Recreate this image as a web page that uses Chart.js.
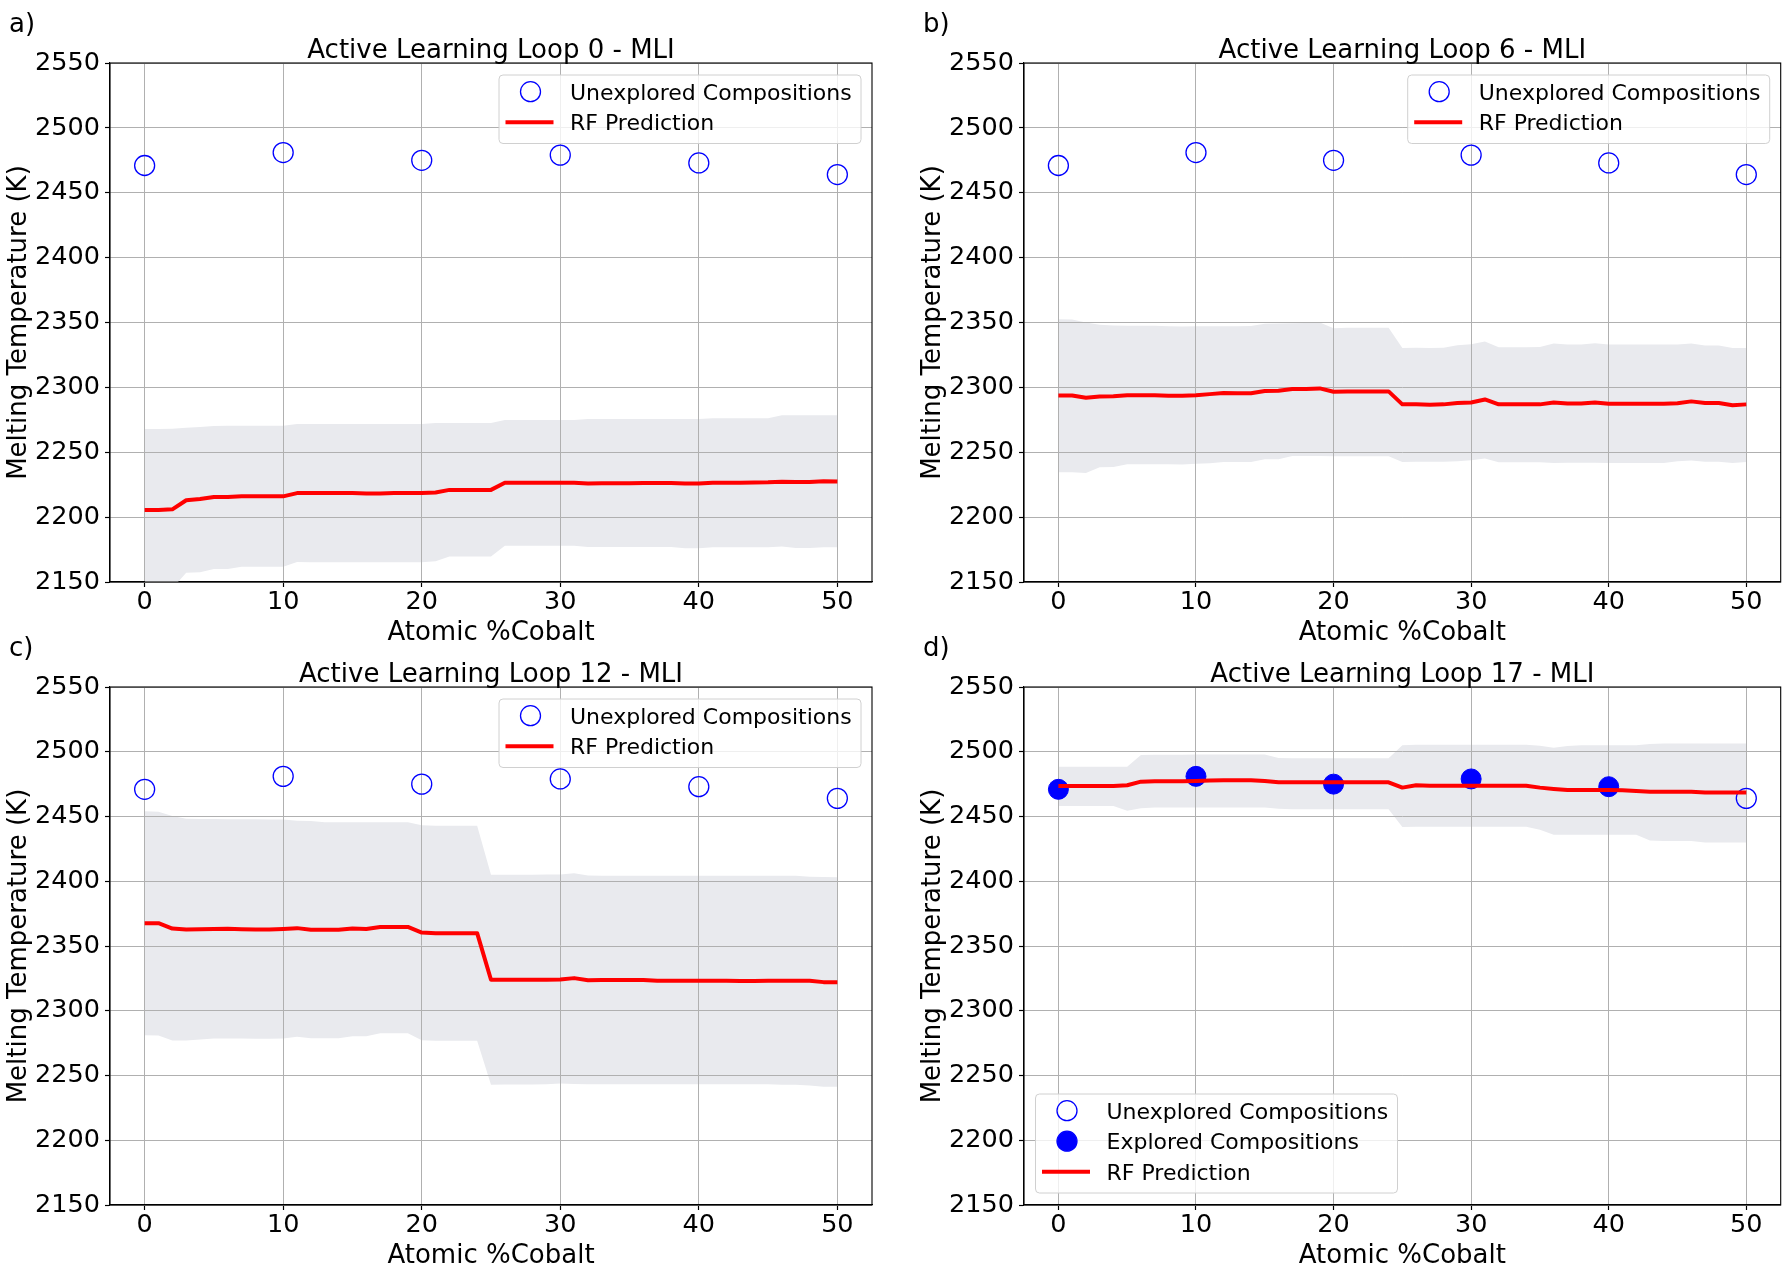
<!DOCTYPE html>
<html>
<head>
<meta charset="utf-8">
<title>Active Learning Loops - MLI</title>
<script src="https://cdn.jsdelivr.net/npm/chart.js@4.4.1/dist/chart.umd.min.js"></script>
<style>
  body { margin: 0; background: #fff; }
  #wrap { position: relative; width: 1792px; height: 1275px; }
  canvas { position: absolute; left: 0; top: 0; }
</style>
</head>
<body>
<div id="wrap">
  <canvas id="pa" width="1792" height="1275"></canvas>
  <canvas id="pb" width="1792" height="1275"></canvas>
  <canvas id="pc" width="1792" height="1275"></canvas>
  <canvas id="pd" width="1792" height="1275"></canvas>
</div>
<script>
// composition grid (atomic % cobalt)
const cobalt = [0,1,2,3,4,5,6,7,8,9,10,11,12,13,14,15,16,17,18,19,20,21,22,23,24,25,
  26,27,28,29,30,31,32,33,34,35,36,37,38,39,40,41,42,43,44,45,46,47,48,49,50]

// measured compositions
const sampleX = [0, 10, 20, 30, 40, 50]
const sampleY = [2471, 2481, 2475, 2479, 2473, 2464]

const xTicks = [0, 10, 20, 30, 40, 50]
const yTicks = [2150, 2200, 2250, 2300, 2350, 2400, 2450, 2500, 2550]

// loop 0
const predLoop0 = [2205.5,2205.5,2206,2213,2214,2215.5,2215.5,2216,2216,2216,
  2216,2218.5,2218.5,2218.5,2218.5,2218.5,2218.3,2218.3,2218.5,2218.5,
  2218.5,2219,2221,2221,2221,2221,2226.5,2226.5,2226.5,2226.5,
  2226.5,2226.5,2226,2226.2,2226.2,2226.2,2226.3,2226.3,2226.3,2226,
  2226,2226.5,2226.5,2226.5,2226.6,2226.8,2227.3,2227,2227,2227.6,
  2227.4]
const upperLoop0 = [2268,2268,2268.2,2268.8,2269.5,2270.3,2270.5,2270.5,2270.5,2270.5,
  2270.5,2271.8,2271.8,2271.8,2271.8,2271.8,2271.8,2271.8,2271.8,2271.8,
  2271.8,2272.6,2272.6,2272.6,2272.6,2272.6,2274.9,2274.9,2274.9,2274.9,
  2274.9,2274.9,2275.6,2275.6,2275.6,2275.6,2275.6,2275.6,2275.6,2275.6,
  2275.6,2276.3,2276.3,2276.3,2276.3,2276.3,2278.5,2278.5,2278.5,2278.5,
  2278.5]
const lowerLoop0 = [2143,2143,2145,2157.2,2157.5,2160,2160,2161.8,2161.8,2161.8,
  2161.8,2165.4,2165.2,2165.2,2165.2,2165.2,2165.2,2165.2,2165.2,2165.2,
  2165.2,2165.9,2169.7,2169.7,2169.7,2169.7,2178,2178,2178,2178,
  2178,2178,2177,2177,2177,2177,2177,2177,2177,2176,
  2176,2176.7,2176.7,2176.7,2176.7,2176.7,2177.4,2176.3,2176.3,2176.8,
  2176.8]

// loop 6
const predLoop6 = [2293.8,2293.8,2292,2293,2293.2,2294,2294,2294,2293.6,2293.6,
  2294,2294.8,2295.6,2295.4,2295.4,2297.2,2297.4,2298.7,2298.7,2299.2,
  2296.6,2296.8,2296.9,2296.9,2296.9,2286.9,2286.9,2286.6,2286.9,2287.9,
  2288.4,2290.7,2286.9,2286.9,2286.9,2286.9,2288.4,2287.6,2287.6,2288.4,
  2287.4,2287.4,2287.4,2287.4,2287.4,2287.8,2289.2,2287.9,2287.9,2286.3,
  2286.9]
const upperLoop6 = [2352.6,2352.3,2350,2348.2,2347.6,2347.4,2347.4,2347.4,2347.2,2346.9,
  2347.1,2347.1,2347.2,2347.2,2347.3,2349,2349.2,2349.5,2349.7,2350,
  2345.6,2345.9,2345.9,2345.9,2345.9,2330.4,2330.6,2330.4,2330.6,2332.5,
  2333.2,2335.3,2331,2331,2331,2331.2,2333.8,2333,2333,2334,
  2333,2333,2333,2333,2333,2333,2333.8,2332.2,2332.2,2330.4,
  2330.4]
const lowerLoop6 = [2234.5,2234.5,2234,2238.4,2238.6,2240.7,2240.7,2240.7,2240.7,2240.6,
  2241.2,2241.6,2242.5,2242.5,2242.5,2244.6,2244.6,2247.2,2247.2,2247.2,
  2247,2247,2247,2247,2247,2242.5,2242.6,2242.6,2242.7,2243,
  2243.8,2245.1,2242.3,2242.3,2242.3,2242.3,2241.8,2242,2242,2242,
  2241.8,2241.8,2241.8,2241.8,2241.8,2243,2243.6,2242.6,2242.6,2241.8,
  2242.5]

// loop 12
const predLoop12 = [2367.6,2367.6,2363.5,2362.7,2363,2363.2,2363.3,2363,2362.7,2362.7,
  2363.2,2363.8,2362.5,2362.5,2362.5,2363.5,2363.2,2364.6,2364.7,2364.7,
  2360.4,2359.9,2359.9,2359.9,2359.9,2323.9,2323.9,2323.9,2323.9,2324,
  2324.1,2325.2,2323.6,2323.8,2323.8,2323.8,2323.8,2323.2,2323.2,2323.2,
  2323.2,2323.2,2323.1,2323,2323,2323.1,2323.1,2323.1,2323.2,2322.1,
  2322.1]
const upperLoop12 = [2454.1,2453.6,2450.3,2448.2,2448,2448,2447.9,2447.8,2447.8,2447.7,
  2447.6,2446.8,2446.6,2445.6,2445.6,2445.6,2445.5,2445.5,2445.5,2445.5,
  2443.3,2442.8,2442.8,2442.8,2442.8,2405,2405,2405,2405.1,2405.2,
  2405.2,2406.2,2404.4,2404.3,2404.3,2404.3,2404.2,2404.2,2404.2,2404.2,
  2404.2,2404.2,2404.2,2404.2,2404.2,2404.2,2404.2,2404.2,2403.4,2403.2,
  2403.1]
const lowerLoop12 = [2281.1,2280.9,2277,2277,2277.8,2278.6,2278.6,2278.5,2278.4,2278.4,
  2278.6,2279.9,2278.8,2278.8,2278.8,2280.4,2280.4,2282.7,2282.7,2282.7,
  2277.3,2276.8,2276.8,2276.8,2276.8,2242.8,2243,2243,2243,2243.2,
  2243.8,2243.4,2243.3,2243.3,2243.3,2243.3,2243.3,2243.3,2243.3,2243.3,
  2243.3,2243.3,2243.3,2243.3,2243.3,2243.3,2242.8,2242.8,2242.3,2241.3,
  2241.3]

// loop 17
const predLoop17 = [2473.6,2473.6,2473.6,2473.6,2473.6,2474.1,2476.9,2477.2,2477.2,2477.2,
  2477.4,2477.8,2478,2478,2478,2477.4,2476.4,2476.4,2476.4,2476.4,
  2476.4,2476.4,2476.4,2476.4,2476.4,2472.3,2474.1,2473.8,2473.8,2473.8,
  2473.8,2473.8,2473.8,2473.8,2473.8,2472.3,2471.3,2470.5,2470.5,2470.5,
  2470.5,2470.2,2469.7,2469.2,2469.2,2469.2,2469.2,2468.5,2468.5,2468.5,
  2468.5]
const upperLoop17 = [2488.5,2488.5,2488.5,2488.5,2488.5,2488.5,2497.4,2497.7,2497.7,2497.7,
  2497.9,2497.9,2497.9,2497.9,2497.9,2497.9,2495.1,2494.9,2494.9,2494.9,
  2494.9,2494.9,2494.9,2494.9,2494.9,2505.1,2505.4,2505.4,2505.4,2505.4,
  2505.4,2505.4,2505.4,2505.4,2505.4,2504.6,2503.1,2504.4,2505,2505,
  2505,2505,2505,2505.9,2506.4,2506.4,2506.4,2506.4,2506.4,2506.4,
  2506.4]
const lowerLoop17 = [2458.2,2458.2,2458.2,2458.2,2458.2,2454.4,2456.4,2456.9,2456.9,2456.9,
  2456.9,2456.9,2456.9,2456.9,2456.9,2456.9,2455.9,2455.6,2455.6,2455.6,
  2455.6,2455.6,2455.6,2455.6,2455.6,2441.8,2442.1,2442.1,2442.1,2442.1,
  2442.1,2442.1,2442.1,2442.1,2442.1,2439.8,2435.9,2435.9,2435.9,2435.9,
  2435.9,2435.9,2435.9,2431.5,2431,2431,2431,2430,2430,2430,
  2430]
const exploredLoop17 = [0, 10, 20, 30, 40]

const FONT = 'DejaVu Sans'
const BLUE = '#0000ff'
const RED = '#ff0000'

const panels = [
  {id:'pa', tag:'a)', title:'Active Learning Loop 0 - MLI', pred:predLoop0, upper:upperLoop0, lower:lowerLoop0, explored:[],
   pad:{left:0, top:63, right:920, bottom:629}, legend:'upper right'},
  {id:'pb', tag:'b)', title:'Active Learning Loop 6 - MLI', pred:predLoop6, upper:upperLoop6, lower:lowerLoop6, explored:[],
   pad:{left:914, top:63, right:7, bottom:629}, legend:'upper right'},
  {id:'pc', tag:'c)', title:'Active Learning Loop 12 - MLI', pred:predLoop12, upper:upperLoop12, lower:lowerLoop12, explored:[],
   pad:{left:0, top:687, right:920, bottom:6}, legend:'upper right'},
  {id:'pd', tag:'d)', title:'Active Learning Loop 17 - MLI', pred:predLoop17, upper:upperLoop17, lower:lowerLoop17, explored:exploredLoop17,
   pad:{left:914, top:687, right:7, bottom:6}, legend:'lower left'}
]

const pts = (xs, ys) => xs.map((x, i) => ({x: x, y: ys[i]}))

function drawLegend(ctx, area, items, where) {
  const w = 362, h = 38 + (items.length - 1) * 30.5
  const bx = where == 'upper right' ? area.right - 11 - w : area.left + 11.5
  const by = where == 'upper right' ? area.top + 12 : area.bottom - 12 - h
  ctx.save()
  ctx.beginPath()
  ctx.roundRect(bx, by, w, h, 4)
  ctx.fillStyle = 'rgba(255,255,255,0.8)'
  ctx.fill()
  ctx.strokeStyle = '#d0d0d0'
  ctx.lineWidth = 1
  ctx.stroke()
  items.forEach((it, i) => {
    const cy = by + 16.7 + i * 30.5
    if (it.kind == 'open' || it.kind == 'filled') {
      ctx.beginPath()
      ctx.arc(bx + 31.5, cy, 10, 0, Math.PI * 2)
      if (it.kind == 'filled') { ctx.fillStyle = BLUE; ctx.fill() }
      ctx.strokeStyle = BLUE
      ctx.lineWidth = 1.3
      ctx.stroke()
    } else {
      ctx.beginPath()
      ctx.moveTo(bx + 6.5, cy)
      ctx.lineTo(bx + 54.5, cy)
      ctx.strokeStyle = RED
      ctx.lineWidth = 4
      ctx.stroke()
    }
    ctx.fillStyle = '#000'
    ctx.font = '22px "' + FONT + '"'
    ctx.textAlign = 'left'
    ctx.textBaseline = 'alphabetic'
    ctx.fillText(it.text, bx + 71, cy + 7.8)
  })
  ctx.restore()
}

const decor = {
  id: 'decor',
  afterDatasetDraw(chart, args) {
    // matplotlib puts the grid above the filled band
    if (chart.data.datasets[args.index].isBand) {
      chart.scales.x.drawGrid(chart.chartArea)
      chart.scales.y.drawGrid(chart.chartArea)
    }
  },
  afterDatasetsDraw(chart) {
    const a = chart.chartArea, ctx = chart.ctx
    ctx.save()
    ctx.strokeStyle = '#000'
    ctx.lineWidth = 1.1
    ctx.strokeRect(a.left, a.top, a.right - a.left, a.bottom - a.top)
    ctx.restore()
  },
  afterDraw(chart) {
    const a = chart.chartArea, ctx = chart.ctx, p = chart.options.plugins.decor
    ctx.save()
    ctx.fillStyle = '#000'
    ctx.textBaseline = 'alphabetic'
    ctx.font = '26px "' + FONT + '"'
    ctx.textAlign = 'center'
    ctx.fillText(p.title, (a.left + a.right) / 2, a.top - 5.5)
    ctx.textAlign = 'left'
    ctx.fillText(p.tag, a.left - 101, a.top - 31)
    ctx.restore()
    drawLegend(ctx, a, p.items, p.legend)
  }
}

panels.forEach(p => {
  const unexX = sampleX.filter(x => !p.explored.includes(x))
  const unexY = sampleY.filter((y, i) => !p.explored.includes(sampleX[i]))
  const expY = sampleY.filter((y, i) => p.explored.includes(sampleX[i]))

  const items = [{kind:'open', text:'Unexplored Compositions'}]
  if (p.explored.length) items.push({kind:'filled', text:'Explored Compositions'})
  items.push({kind:'line', text:'RF Prediction'})

  new Chart(document.getElementById(p.id), {
    type: 'line',
    data: {
      datasets: [
        {label:'RF Prediction', data: pts(cobalt, p.pred), borderColor: RED, borderWidth: 4,
         pointRadius: 0, tension: 0, borderJoinStyle: 'round', borderCapStyle: 'butt', order: 0},
        {type:'scatter', label:'Explored Compositions', data: pts(p.explored, expY), pointRadius: 10,
         pointBackgroundColor: BLUE, pointBorderColor: BLUE, pointBorderWidth: 1, order: 1},
        {type:'scatter', label:'Unexplored Compositions', data: pts(unexX, unexY), pointRadius: 10,
         pointBackgroundColor: 'rgba(0,0,0,0)', pointBorderColor: BLUE, pointBorderWidth: 1.3, order: 2},
        {label:'upper', isBand: true, data: pts(cobalt, p.upper), borderWidth: 0, borderColor: 'rgba(0,0,0,0)',
         pointRadius: 0, fill: 4, backgroundColor: '#e9eaee', order: 3},
        {label:'lower', data: pts(cobalt, p.lower), borderWidth: 0, borderColor: 'rgba(0,0,0,0)',
         pointRadius: 0, fill: false, order: 4}
      ]
    },
    options: {
      responsive: false,
      animation: false,
      devicePixelRatio: 1,
      layout: {padding: p.pad},
      plugins: {
        legend: {display: false},
        tooltip: {enabled: false},
        filler: {propagate: false},
        decor: {title: p.title, tag: p.tag, items: items, legend: p.legend}
      },
      scales: {
        x: {
          type: 'linear', min: -2.5, max: 52.5,
          afterBuildTicks: s => { s.ticks = xTicks.map(v => ({value: v})) },
          afterFit: s => { s.height = 64 },
          grid: {color: '#b0b0b0', lineWidth: 1, tickColor: '#000', tickLength: 5, tickWidth: 1.1},
          border: {color: '#000', width: 1.1},
          ticks: {color: '#000', font: {family: FONT, size: 25.5}, padding: 0, maxRotation: 0, callback: v => String(v)},
          title: {display: true, text: 'Atomic %Cobalt', color: '#000', font: {family: FONT, size: 26}, padding: {top: 0, bottom: -3}}
        },
        y: {
          type: 'linear', min: 2150, max: 2550,
          afterBuildTicks: s => { s.ticks = yTicks.map(v => ({value: v})) },
          afterFit: s => { s.width = 110 },
          grid: {color: '#b0b0b0', lineWidth: 1, tickColor: '#000', tickLength: 5, tickWidth: 1.1},
          border: {color: '#000', width: 1.1},
          ticks: {color: '#000', font: {family: FONT, size: 25.5}, padding: 5, callback: v => String(v)},
          title: {display: true, text: 'Melting Temperature (K)', color: '#000', font: {family: FONT, size: 26}, padding: {top: 4, bottom: 0}}
        }
      }
    },
    plugins: [decor]
  })
})
</script>
</body>
</html>
